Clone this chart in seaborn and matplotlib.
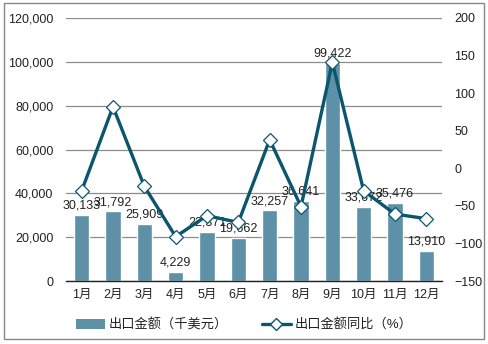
import matplotlib
matplotlib.use("Agg")
import matplotlib.pyplot as plt
import seaborn as sns
import pandas as pd
import numpy as np
from matplotlib.lines import Line2D
from matplotlib.patches import Patch, Rectangle

sns.set_theme(style="white")
plt.rcParams['font.family'] = ['Liberation Sans', 'Noto Sans CJK SC', 'DejaVu Sans']

months = ["1月", "2月", "3月", "4月", "5月", "6月", "7月", "8月", "9月", "10月", "11月", "12月"]
export_value = [30133, 31792, 25909, 4229, 22371, 19662, 32257, 36641, 99422, 33672, 35476, 13910]
yoy_pct = [-30, 82, -24, -91, -63, -72, 38, -51, 141, -30, -61, -67]

bar_color = "#5E90A8"
line_color = "#0B566E"
text_color = "#222222"

df = pd.DataFrame({"month": months, "value": export_value, "yoy": yoy_pct})

fig = plt.figure(figsize=(4.88, 3.44), dpi=100)
ax = fig.add_axes([66 / 488, 1 - 281 / 344, (442 - 66) / 488, (281 - 18) / 344])

sns.barplot(data=df, x="month", y="value", color=bar_color, width=0.48,
            saturation=1, ax=ax, zorder=2)
ax.set_ylim(0, 120000)
ax.set_yticks(np.arange(0, 120001, 20000))
ax.set_yticklabels([f"{v:,}" for v in range(0, 120001, 20000)])
ax.yaxis.grid(True, color="#8c8c8c", linewidth=0.9, zorder=0)
ax.set_axisbelow(True)
ax.set_xlim(-0.5, 11.5)
ax.set_xlabel("")
ax.set_ylabel("")
for s in ["top", "right", "left"]:
    ax.spines[s].set_visible(False)
ax.spines["bottom"].set_color("#222222")
ax.spines["bottom"].set_linewidth(1.0)
ax.tick_params(axis="both", length=0, labelsize=9, colors=text_color, pad=6)
ax.tick_params(axis="y", pad=9)

for i, v in enumerate(export_value):
    ax.text(i, v + 1500, f"{v:,}", ha="center", va="bottom", fontsize=9,
            color=text_color, zorder=5)

ax2 = ax.twinx()
ax2.plot(range(len(months)), yoy_pct, color=line_color, linewidth=2.4,
         marker="D", markersize=7.5, markerfacecolor="white",
         markeredgecolor=line_color, markeredgewidth=0.9, zorder=4)
ax2.set_ylim(-150, 200)
ax2.set_yticks(np.arange(-150, 201, 50))
for s in ["top", "right", "left", "bottom"]:
    ax2.spines[s].set_visible(False)
ax2.tick_params(axis="y", length=0, labelsize=9, colors=text_color, pad=9)
ax2.set_xlim(-0.5, 11.5)

handles = [
    Patch(facecolor=bar_color, edgecolor="none"),
    Line2D([0], [0], color=line_color, linewidth=2.4, marker="D", markersize=6,
           markerfacecolor="white", markeredgecolor=line_color),
]
labels = ["出口金额（千美元）", "出口金额同比（%）"]
fig.legend(handles, labels, loc="center", bbox_to_anchor=(0.5, 1 - 325 / 344),
           ncol=2, frameon=False, fontsize=9.5, handlelength=2.2,
           columnspacing=2.6, handletextpad=0.25, labelcolor=text_color)

fig.patches.append(Rectangle((4 / 488, 1 - 339 / 344), 480 / 488, 336 / 344,
                             transform=fig.transFigure, fill=False,
                             edgecolor="#888888", linewidth=1.0))

fig.savefig("out.png", dpi=100)
